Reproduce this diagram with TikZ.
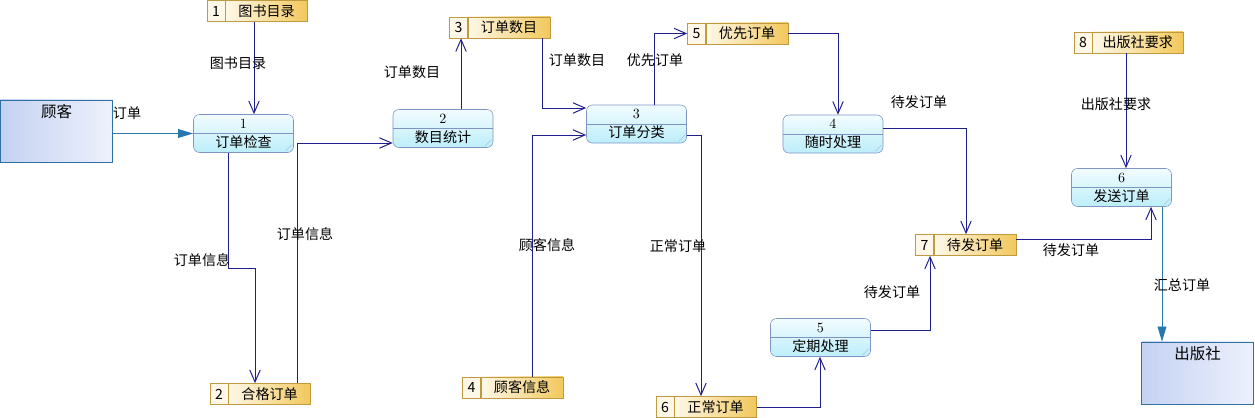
\documentclass[tikz,border=0pt]{standalone}
\usepackage{fontspec}
\newfontfamily\cjk{Noto Sans CJK SC}
\usetikzlibrary{arrows.meta}
\usetikzlibrary{positioning}
\usepackage{xcolor}

\definecolor{flowblue}{RGB}{32,32,140}
\definecolor{extblue}{RGB}{40,120,176}
\definecolor{extedge}{RGB}{48,112,160}
\definecolor{extdark}{RGB}{196,210,242}
\definecolor{extlight}{RGB}{238,241,252}
\definecolor{proctop}{RGB}{242,252,255}
\definecolor{procbot}{RGB}{188,238,250}
\definecolor{procedge}{RGB}{128,148,196}
\definecolor{storeedge}{RGB}{192,154,64}
\definecolor{storecell}{RGB}{255,248,232}
\definecolor{storegold}{RGB}{242,200,92}

\begin{document}
\begin{tikzpicture}[x=0.025cm,y=-0.025cm,font=\cjk\fontsize{10}{13.5}\selectfont]
      \useasboundingbox (0,0) rectangle (1255,418);
      \tikzstyle{proc}=[draw=procedge,rounded corners=0.15cm,top color=proctop,bottom color=procbot,minimum width=2.5cm,minimum height=0.95cm,inner sep=0pt,align=center]
      \tikzstyle{entity}=[draw=extedge,left color=extdark,right color=extlight,minimum width=2.8cm,minimum height=1.55cm]
      \tikzstyle{entitytext}=[font=\cjk\fontsize{11}{13}\selectfont,anchor=north]
      \tikzstyle{storenum}=[draw=storeedge,fill=storecell,minimum width=0.45cm,minimum height=0.525cm,inner sep=0pt]
      \tikzstyle{storename}=[draw=storeedge,left color=storecell,right color=storegold,minimum width=2.05cm,minimum height=0.525cm,inner xsep=0.25cm,inner ysep=0pt]
      \tikzstyle{flow}=[draw=flowblue,line width=0.7pt,->,>={Straight Barb[length=0.3cm,width=0.26cm]}]
      \tikzstyle{extflow}=[draw=extblue,line width=0.7pt,->,>={Triangle[length=0.38cm,width=0.22cm]}]

      % external entities
      \node[entity,label={[entitytext]north:顾客}]   (cust) at (56.5,131)  {};
      \node[entity,label={[entitytext]north:出版社}] (pub)  at (1197.5,373) {};

      % processes
      \node[proc] (p1) at (243.5,133.5) {{\rmfamily 1}\\订单检查};
      \node[proc] (p2) at (443,128.5)   {{\rmfamily 2}\\数目统计};
      \node[proc] (p3) at (636.5,124)   {{\rmfamily 3}\\订单分类};
      \node[proc] (p4) at (833,134)     {{\rmfamily 4}\\随时处理};
      \node[proc] (p5) at (820.5,337.5) {{\rmfamily 5}\\定期处理};
      \node[proc] (p6) at (1121.5,187.5) {{\rmfamily 6}\\发送订单};
      \foreach \p in {p1,p2,p3,p4,p5,p6} {
        \draw[procedge] (\p.west) -- (\p.east);
        \draw[procedge!60] ([shift={(-0.2cm,0.05cm)}]\p.south east) -- ([shift={(-0.05cm,0.2cm)}]\p.south east);
      }

      % data stores
      \node[storenum] (s1n) at (216,11)     {1};
      \node[storename,right=0pt of s1n] (s1) {图书目录};
      \node[storenum] (s2n) at (219,394)    {2};
      \node[storename,right=0pt of s2n] (s2) {合格订单};
      \node[storenum] (s3n) at (458.5,27.5) {3};
      \node[storename,right=0pt of s3n] (s3) {订单数目};
      \node[storenum] (s4n) at (471.5,387.5) {4};
      \node[storename,right=0pt of s4n] (s4) {顾客信息};
      \node[storenum] (s5n) at (696.5,33.5) {5};
      \node[storename,right=0pt of s5n] (s5) {优先订单};
      \node[storenum] (s6n) at (665,407)    {6};
      \node[storename,right=0pt of s6n] (s6) {正常订单};
      \node[storenum] (s7n) at (924.5,245)  {7};
      \node[storename,right=0pt of s7n] (s7) {待发订单};
      \node[storenum] (s8n) at (1083,42.5)  {8};
      \node[storename,right=0pt of s8n] (s8) {出版社要求};

      % flows
      \draw[extflow] (cust.east |- p1.west) -- (p1.west);
      \draw[flow] (s1.south -| 254,0) -- (p1.north -| 254,0);
      \draw[flow] (p1.south -| 228,0) |- (255,268) -- (s2.north -| 255,0);
      \draw[flow] (s2.north -| 297,0) |- (p2.west |- 0,143);
      \draw[flow] (p2.north -| 461,0) -- (s3n.south -| 461,0);
      \draw[flow] (s3.south -| 542,0) |- (p3.west |- 0,108);
      \draw[flow] (p3.north -| 654,0) |- (s5n.west);
      \draw[flow] (s4.north -| 532,0) |- (p3.west |- 0,135);
      \draw[flow] (p3.east |- 0,135) -| (s6.north -| 701,0);
      \draw[flow] (s5.east) -| (p4.north -| 838,0);
      \draw[flow] (p4.east |- 0,128) -| (s7.north -| 966,0);
      \draw[flow] (s6.east) -| (p5.south -| 820,0);
      \draw[flow] (p5.east |- 0,330) -| (s7n.south -| 930,0);
      \draw[flow] (s7.east |- 0,239) -| (p6.south -| 1151,0);
      \draw[flow] (s8.south -| 1126,0) -- (p6.north -| 1126,0);
      \draw[extflow] (p6.south -| 1162,0) -- (pub.north -| 1162,0);

      % flow labels
      \node (lorder)  at (127,113)  {订单};
      \node (lcat)    at (238,63)   {图书目录};
      \node (linfo1)  at (202,260)  {订单信息};
      \node (linfo2)  at (305,234)  {订单信息};
      \node (lcount1) at (412,72)   {订单数目};
      \node (lcount2) at (577,60)   {订单数目};
      \node (lprio)   at (655,60)   {优先订单};
      \node (lcust)   at (547,245)  {顾客信息};
      \node (lnorm)   at (678,246)  {正常订单};
      \node (lwait1)  at (919,102)  {待发订单};
      \node (lwait2)  at (892,292)  {待发订单};
      \node (lwait3)  at (1071,250) {待发订单};
      \node (lreq)    at (1116,104) {出版社要求};
      \node (lsum)    at (1182,285) {汇总订单};
\end{tikzpicture}
\end{document}
